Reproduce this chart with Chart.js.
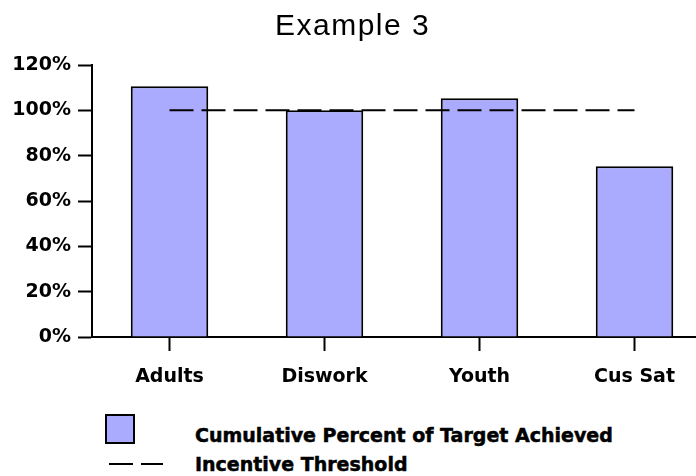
<!DOCTYPE html>
<html>
<head>
<meta charset="utf-8">
<script src="https://cdn.jsdelivr.net/npm/chart.js@4.4.1/dist/chart.umd.min.js"></script>
<style>
    html, body { margin: 0; padding: 0; width: 696px; height: 476px; overflow: hidden; background: #fff; }
    #wrap { position: relative; width: 696px; height: 476px; overflow: hidden; }
    #chart { position: absolute; left: 0; top: 0; }
    #titulo { position: absolute; left: 275px; top: 10px; font: 30px/30px "Liberation Sans", Arial, sans-serif; letter-spacing: 1.5px; color: #000; white-space: nowrap; }
    .leyenda-txt { position: absolute; left: 195px; font: bold 19px/19px "DejaVu Sans", sans-serif; color: #000; white-space: nowrap; -webkit-text-stroke: 0.5px #000; }
    #caja { position: absolute; left: 105px; top: 414px; width: 26px; height: 26px; border: 2px solid #000; }
    #lineaLeyenda { position: absolute; left: 105px; top: 458px; }
</style>
</head>
<body>
<div id="wrap">
    <canvas id="chart" width="720" height="400"></canvas>
    <div id="titulo">Example 3</div>
    <div id="caja"></div>
    <svg id="lineaLeyenda" width="70" height="12"><line x1="4" y1="6" x2="58" y2="6" stroke="#000" stroke-width="2" stroke-dasharray="24 8"></line></svg>
    <div class="leyenda-txt" id="ley1" style="top:426px"></div>
    <div class="leyenda-txt" id="ley2" style="top:455px"></div>
</div>
<script>
var categorias = ['Adults', 'Diswork', 'Youth', 'Cus Sat'];
var acumulado = [110.6, 100, 105.3, 75.3];
var umbral = [100, 100, 100, 100];
var etiquetasSeries = ['Cumulative Percent of Target Achieved', 'Incentive Threshold'];
var ticksY = [0, 20, 40, 60, 80, 100, 120];

var colorBarra = '#AAAAFF';

Chart.defaults.font.family = '"DejaVu Sans", sans-serif';
Chart.defaults.font.size = 19;
Chart.defaults.font.weight = 'bold';
Chart.defaults.color = '#000';

var ctx = document.getElementById('chart').getContext('2d');
var grafico = new Chart(ctx, {
    type: 'bar',
    data: {
        labels: categorias,
        datasets: [{
            type: 'line',
            label: etiquetasSeries[1],
            data: umbral,
            borderColor: '#000',
            borderWidth: 2,
            borderDash: [24, 8],
            pointRadius: 0,
            fill: false,
            order: 0
        }, {
            label: etiquetasSeries[0],
            data: acumulado,
            backgroundColor: colorBarra,
            borderColor: '#000',
            borderWidth: 2,
            barPercentage: 0.5,
            categoryPercentage: 1,
            order: 1
        }]
    },
    options: {
        responsive: false,
        animation: false,
        devicePixelRatio: 1,
        layout: { padding: { top: 65, right: 8, left: 0, bottom: 0 } },
        plugins: {
            legend: { display: false },
            title: { display: false },
            tooltip: { enabled: false }
        },
        scales: {
            x: {
                grid: { display: true, drawOnChartArea: false, drawTicks: true, tickLength: 14, tickColor: '#000', tickWidth: 2, offset: false },
                border: { color: '#000', width: 2 },
                ticks: { padding: 15, maxRotation: 0, autoSkip: false },
                afterFit: function (s) { s.height = 63; }
            },
            y: {
                min: 0,
                max: 120,
                afterBuildTicks: function (s) { s.ticks = ticksY.map(function (v) { return { value: v }; }); },
                grid: { display: true, drawOnChartArea: false, drawTicks: true, tickLength: 14, tickColor: '#000', tickWidth: 2 },
                border: { color: '#000', width: 2 },
                ticks: { padding: 7, callback: function (v) { return v + '%'; } },
                afterFit: function (s) { s.width = 92; }
            }
        }
    }
});

//leyenda a partir de las series
document.getElementById('ley1').textContent = etiquetasSeries[0];
document.getElementById('ley2').textContent = etiquetasSeries[1];
document.getElementById('caja').style.background = colorBarra;
</script>
</body>
</html>
